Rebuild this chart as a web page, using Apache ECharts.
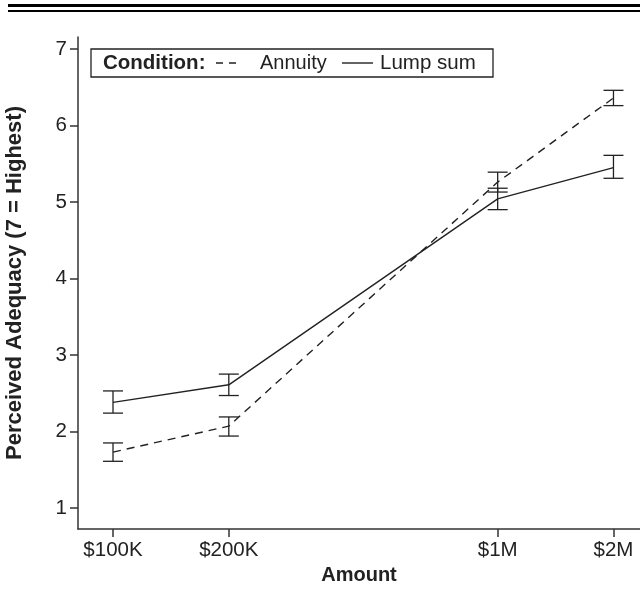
<!DOCTYPE html>
<html>
<head>
<meta charset="utf-8">
<script src="https://cdn.jsdelivr.net/npm/echarts@6/dist/echarts.min.js"></script>
<style>
html,body{margin:0;padding:0;background:#fff;}
#chart{width:640px;height:609px;}
</style>
</head>
<body>
<div id="chart"></div>
<script>
const amounts = [100000, 200000, 1000000, 2000000];
const amountLabels = ['$100K', '$200K', '$1M', '$2M'];
const yTicks = [1, 2, 3, 4, 5, 6, 7];

const annuityMean = [1.73, 2.07, 5.26, 6.36];
const annuityLow  = [1.61, 1.94, 5.13, 6.26];
const annuityHigh = [1.85, 2.19, 5.39, 6.46];

const lumpMean = [2.38, 2.61, 5.04, 5.45];
const lumpLow  = [2.24, 2.47, 4.90, 5.31];
const lumpHigh = [2.53, 2.75, 5.18, 5.61];

const FONT = '"Liberation Sans", Arial, Helvetica, sans-serif';
const INK = '#222';

const logX = amounts.map(a => Math.log10(a));
function labelFor(v) {
  let best = 0;
  logX.forEach((lx, i) => { if (Math.abs(lx - v) < Math.abs(logX[best] - v)) best = i; });
  return amountLabels[best];
}

function errorBarSeries(low, high) {
  return {
    type: 'custom',
    data: logX.map((x, i) => [x, low[i], high[i]]),
    silent: true,
    z: 3,
    renderItem: function (params, api) {
      const x = api.value(0);
      const lo = api.coord([x, api.value(1)]);
      const hi = api.coord([x, api.value(2)]);
      const w = 10;
      const style = { stroke: INK, lineWidth: 1.3 };
      return {
        type: 'group',
        children: [
          { type: 'line', shape: { x1: lo[0], y1: lo[1], x2: hi[0], y2: hi[1] }, style: style },
          { type: 'line', shape: { x1: lo[0] - w, y1: lo[1], x2: lo[0] + w, y2: lo[1] }, style: style },
          { type: 'line', shape: { x1: hi[0] - w, y1: hi[1], x2: hi[0] + w, y2: hi[1] }, style: style }
        ]
      };
    }
  };
}

const chart = echarts.init(document.getElementById('chart'), null, { renderer: 'canvas' });

const option = {
  backgroundColor: '#fff',
  animation: false,
  grid: { left: 78, right: 0, top: 37, bottom: 80, containLabel: false, outerBoundsMode: 'none' },
  xAxis: {
    type: 'value',
    min: 4.909,
    max: 6.37,
    name: 'Amount',
    nameLocation: 'middle',
    nameGap: 32,
    nameTextStyle: { fontFamily: FONT, fontSize: 20, fontWeight: 'bold', color: INK },
    axisLine: { show: true, lineStyle: { color: '#333', width: 1.5 } },
    axisTick: { show: true, length: 8, customValues: logX, lineStyle: { color: '#333', width: 1.5 } },
    axisLabel: {
      customValues: logX,
      formatter: v => labelFor(v),
      fontFamily: FONT, fontSize: 20.5, color: INK, margin: 11
    },
    splitLine: { show: false }
  },
  yAxis: {
    type: 'value',
    min: 0.725,
    max: 7.157,
    name: 'Perceived Adequacy (7 = Highest)',
    nameLocation: 'middle',
    nameRotate: 90,
    nameGap: 52,
    nameTextStyle: { fontFamily: FONT, fontSize: 22, fontWeight: 'bold', color: INK },
    axisLine: { show: true, lineStyle: { color: '#333', width: 1.5 } },
    axisTick: { show: true, length: 8, customValues: yTicks, lineStyle: { color: '#333', width: 1.5 } },
    axisLabel: {
      customValues: yTicks,
      formatter: v => String(Math.round(v)),
      fontFamily: FONT, fontSize: 20.5, color: INK, margin: 11
    },
    splitLine: { show: false }
  },
  series: [
    {
      name: 'Annuity',
      type: 'line',
      data: logX.map((x, i) => [x, annuityMean[i]]),
      symbol: 'none',
      lineStyle: { color: INK, width: 1.4, type: [8, 6] },
      z: 2
    },
    {
      name: 'Lump sum',
      type: 'line',
      data: logX.map((x, i) => [x, lumpMean[i]]),
      symbol: 'none',
      lineStyle: { color: INK, width: 1.4, type: 'solid' },
      z: 2
    },
    errorBarSeries(annuityLow, annuityHigh),
    errorBarSeries(lumpLow, lumpHigh)
  ],
  graphic: [
    { type: 'rect', shape: { x: 8, y: 4, width: 632, height: 3 }, style: { fill: '#000' } },
    { type: 'rect', shape: { x: 8, y: 10, width: 632, height: 2 }, style: { fill: '#000' } },
    { type: 'rect', shape: { x: 91, y: 49, width: 402, height: 28 }, style: { fill: '#fff', stroke: INK, lineWidth: 1.3 }, z: 10 },
    { type: 'text', x: 103, y: 63, style: { text: 'Condition:', font: 'bold 20.5px ' + FONT, fill: INK, verticalAlign: 'middle' }, z: 11 },
    { type: 'line', shape: { x1: 216, y1: 63, x2: 239, y2: 63 }, style: { stroke: INK, lineWidth: 1.4, lineDash: [7, 6] }, z: 11 },
    { type: 'text', x: 260, y: 63, style: { text: 'Annuity', font: '20px ' + FONT, fill: INK, verticalAlign: 'middle' }, z: 11 },
    { type: 'line', shape: { x1: 342, y1: 63, x2: 373, y2: 63 }, style: { stroke: INK, lineWidth: 1.4 }, z: 11 },
    { type: 'text', x: 380, y: 63, style: { text: 'Lump sum', font: '20.5px ' + FONT, fill: INK, verticalAlign: 'middle' }, z: 11 }
  ]
};
chart.setOption(option);
</script>
</body>
</html>
